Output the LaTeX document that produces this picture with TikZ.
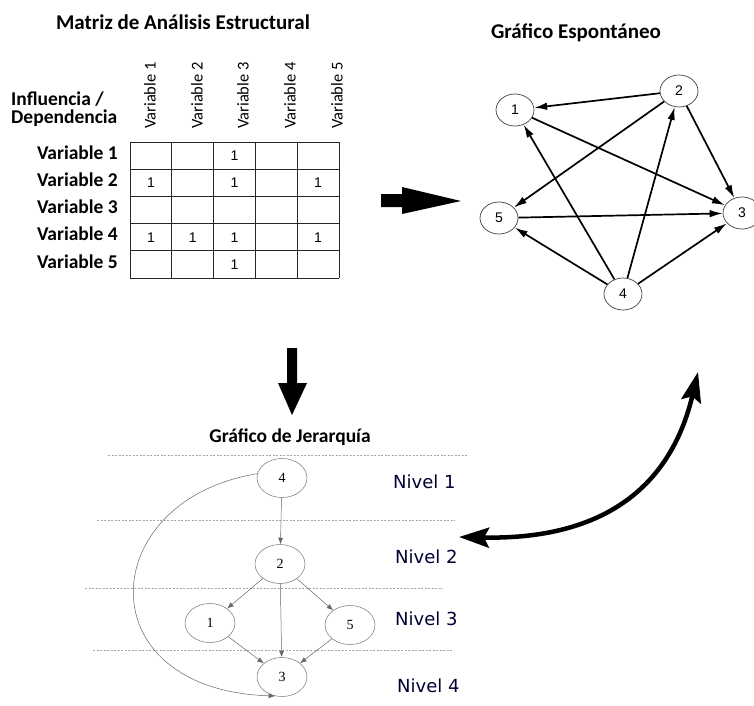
\documentclass[tikz,border=0pt]{standalone}
\usepackage{fontspec}
\setmainfont{Carlito}
\newfontfamily\numfont{Liberation Sans}
\newfontfamily\serfont{Liberation Serif}
\newfontfamily\lvlfont{DejaVu Sans}
\usetikzlibrary{arrows.meta, shapes.geometric}

\begin{document}
\begin{tikzpicture}[
  x=1pt, y=-1pt,
  ttl/.style={font=\fontsize{21}{24}\selectfont\bfseries, inner sep=0pt},
  rowlbl/.style={font=\fontsize{19.5}{22}\selectfont\bfseries, anchor=east, inner sep=0pt},
  collbl/.style={font=\fontsize{16.5}{18}\selectfont, rotate=90, anchor=west, inner sep=0pt},
  one/.style={font=\numfont\fontsize{14}{16}\selectfont, inner sep=0pt},
  gnode/.style={draw=black!75, ellipse, line width=0.7pt, minimum width=38pt,
                minimum height=32pt, inner sep=0pt, font=\numfont\fontsize{14}{16}\selectfont},
  hnode/.style={draw=black!55, ellipse, line width=0.5pt, minimum width=50pt,
                minimum height=39pt, inner sep=0pt, font=\serfont\fontsize{14}{16}\selectfont},
  gar/.style={-{Latex[length=13pt,width=7.5pt]}, line width=1.7pt},
  har/.style={-{Latex[length=6.5pt,width=5pt]}, black!60, line width=0.5pt},
  lvl/.style={dash pattern=on 2pt off 1.5pt, black!35, line width=0.5pt},
  nivel/.style={font=\lvlfont\fontsize{18}{20}\selectfont, text=black!80!blue,
                anchor=west, inner sep=0pt},
  bigar/.style={line width=4.5pt,
    {Stealth[length=30pt,width=20pt,inset=5pt]}-{Stealth[length=30pt,width=20pt,inset=5pt]}},
]
\useasboundingbox (0,0) rectangle (754,705);

% matriz
\node[ttl] (mtitle) at (183,22) {Matriz de Análisis Estructural};
\node[font=\fontsize{19.5}{18}\selectfont\bfseries, align=left, anchor=west, inner sep=0pt]
  (infl) at (11,109) {Influencia /\\Dependencia};
\foreach \i/\x in {1/150,2/197,3/243,4/290,5/337}
  \node[collbl] (col\i) at (\x,129) {Variable \i};
\foreach \i in {1,...,5}
  \node[rowlbl] (row\i) at (118,{142+27.2*(\i-0.5)-3}) {Variable \i};
\foreach \i in {0,...,5} {
  \draw[line width=1pt, black!85] ({130+41.8*\i},142) -- ({130+41.8*\i},278);
  \draw[line width=1pt, black!85] (130,{142+27.2*\i}) -- (339,{142+27.2*\i});
}
\foreach \r/\c in {1/3, 2/1, 2/3, 2/5, 4/1, 4/2, 4/3, 4/5, 5/3}
  \node[one] (m-\r-\c) at ({130+41.8*(\c-0.5)},{142+27.2*(\r-0.5)}) {1};

% flecha a la derecha
\fill (381,194) -- (402,194) -- (402,187) -- (461,201) -- (402,214) -- (402,207)
  -- (381,207) -- cycle;

% grafico espontaneo
\node[ttl] (gtitle) at (576,33) {Gráfico Espontáneo};
\node[gnode] (g1) at (515,110) {1};
\node[gnode] (g2) at (679,91) {2};
\node[gnode] (g3) at (742,213) {3};
\node[gnode] (g4) at (623,294) {4};
\node[gnode] (g5) at (499,218) {5};
\draw[gar] (g2) -- (g1);
\draw[gar] (g2) -- (g5);
\draw[gar] (g2) -- (g3);
\draw[gar] (g1) -- (g3);
\draw[gar] (g5) -- (g3);
\draw[gar] (g4) -- (g1);
\draw[gar] (g4) -- (g2);
\draw[gar] (g4) -- (g5);
\draw[gar] (g4) -- (g3);

% flecha hacia abajo
\fill (287,348) -- (297,348) -- (297,383) -- (307,383) -- (292,415) -- (278,383)
  -- (287,383) -- cycle;

% grafico de jerarquia
\node[ttl, font=\fontsize{19.5}{22}\selectfont\bfseries] (htitle) at (290,437)
  {Gráfico de Jerarquía};
\draw[lvl] (108,455) -- (468,455);
\draw[lvl] (97,520) -- (455,520);
\draw[lvl] (85,588) -- (443,588);
\draw[lvl] (93,650) -- (452,650);
\node[hnode] (h4) at (282,478) {4};
\node[hnode] (h2) at (280,564) {2};
\node[hnode] (h1) at (210,623) {1};
\node[hnode] (h5) at (350,625) {5};
\node[hnode] (h3) at (282,677) {3};
\draw[har] (h4) -- (h2);
\draw[har] (h2) -- (h1);
\draw[har] (h2) -- (h3);
\draw[har] (h2) -- (h5);
\draw[har] (h1) -- (h3);
\draw[har] (h5) -- (h3);
\draw[har] (h4.170) .. controls (95,500) and (85,690) .. (h3.250);
\node[nivel] (n1) at (393,482) {Nivel 1};
\node[nivel] (n2) at (395,557) {Nivel 2};
\node[nivel] (n3) at (395,619) {Nivel 3};
\node[nivel] (n4) at (397,686) {Nivel 4};

% flecha doble
\coordinate (dl) at (459,537);
\coordinate (du) at (698,372);
\draw[bigar] (dl) .. controls (600,540) and (670,490) .. (du);
\end{tikzpicture}
\end{document}
